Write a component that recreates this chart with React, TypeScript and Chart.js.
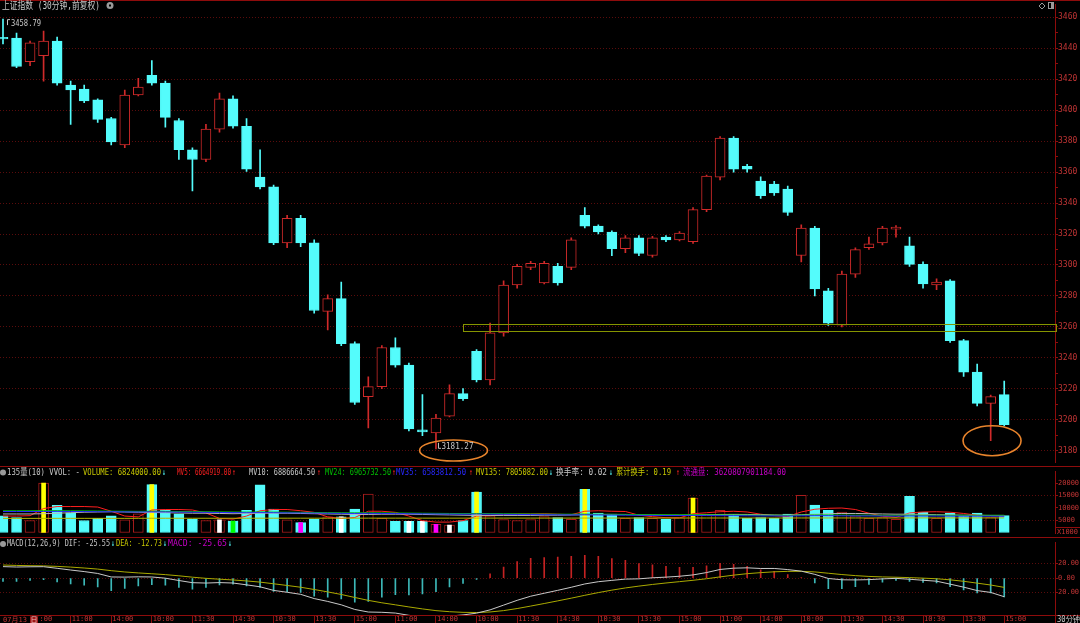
import { useEffect, useRef } from "react";
import { Chart, registerables } from "chart.js";

Chart.register(...registerables);

// ---------------- data ----------------
const barTimes = [
  "14:00", "14:30", "15:00",
  "10:00", "10:30", "11:00", "11:30", "13:30", "14:00", "14:30", "15:00",
  "10:00", "10:30", "11:00", "11:30", "13:30", "14:00", "14:30", "15:00",
  "10:00", "10:30", "11:00", "11:30", "13:30", "14:00", "14:30", "15:00",
  "10:00", "10:30", "11:00", "11:30", "13:30", "14:00", "14:30", "15:00",
  "10:00", "10:30", "11:00", "11:30", "13:30", "14:00", "14:30", "15:00",
  "10:00", "10:30", "11:00", "11:30", "13:30", "14:00", "14:30", "15:00",
  "10:00", "10:30", "11:00", "11:30", "13:30", "14:00", "14:30", "15:00",
  "10:00", "10:30", "11:00", "11:30", "13:30", "14:00", "14:30", "15:00",
  "10:00", "10:30", "11:00", "11:30", "13:30", "14:00", "14:30", "15:00",
];

const openPx = [
  3447.0, 3446.5, 3431.3, 3435.1, 3444.6, 3416.2, 3413.6, 3406.7, 3394.6, 3377.6,
  3409.8, 3422.5, 3417.4, 3393.3, 3374.4, 3368.1, 3387.7, 3407.3, 3389.6, 3356.7,
  3350.4, 3314.3, 3330.1, 3314.3, 3270.0, 3278.3, 3249.2, 3215.0, 3221.4, 3246.7,
  3235.3, 3193.5, 3191.6, 3202.4, 3216.9, 3244.2, 3225.8, 3256.2, 3287.1, 3298.5,
  3288.4, 3299.1, 3298.5, 3332.0, 3325.1, 3321.3, 3310.5, 3317.5, 3306.1, 3318.1,
  3316.2, 3315.0, 3335.8, 3356.7, 3382.0, 3363.7, 3354.2, 3352.3, 3349.1, 3306.1,
  3323.8, 3283.3, 3261.2, 3294.1, 3311.2, 3314.3, 3323.2, 3312.4, 3300.4, 3287.1,
  3289.7, 3251.1, 3230.8, 3210.6, 3216.3,
];
const highPx = [
  3458.79, 3449.7, 3444.6, 3451.0, 3447.2, 3418.7, 3416.2, 3407.3, 3395.3, 3413.0,
  3420.6, 3432.0, 3418.7, 3394.6, 3375.7, 3390.8, 3411.1, 3409.2, 3394.6, 3374.4,
  3351.6, 3332.0, 3332.0, 3316.2, 3280.8, 3289.0, 3250.4, 3227.7, 3247.9, 3252.9,
  3236.6, 3216.3, 3203.6, 3222.6, 3220.1, 3245.4, 3262.5, 3289.7, 3300.4, 3302.3,
  3302.3, 3301.0, 3317.5, 3337.1, 3326.0, 3322.0, 3319.0, 3319.0, 3318.5, 3319.0,
  3321.5, 3337.0, 3358.0, 3383.0, 3383.0, 3365.0, 3357.0, 3354.0, 3351.0, 3326.0,
  3325.0, 3285.0, 3296.0, 3311.0, 3318.0, 3325.0, 3325.5, 3318.0, 3302.0, 3291.0,
  3290.5, 3252.0, 3236.0, 3216.0, 3225.0,
];
const lowPx = [
  3442.7, 3427.5, 3428.8, 3418.7, 3416.2, 3390.8, 3404.8, 3392.1, 3377.6, 3375.7,
  3409.2, 3416.2, 3389.0, 3368.1, 3347.8, 3366.8, 3385.8, 3388.3, 3360.5, 3349.1,
  3313.1, 3311.2, 3311.8, 3268.8, 3258.0, 3247.9, 3210.0, 3194.7, 3220.1, 3234.0,
  3192.9, 3189.7, 3181.27, 3201.8, 3212.5, 3224.5, 3222.6, 3254.0, 3285.0, 3297.0,
  3287.8, 3287.0, 3297.0, 3324.0, 3320.0, 3306.0, 3308.0, 3306.0, 3305.0, 3315.0,
  3315.5, 3314.0, 3334.5, 3355.0, 3360.0, 3360.0, 3343.0, 3345.0, 3332.0, 3302.0,
  3280.0, 3261.0, 3260.0, 3292.0, 3310.0, 3313.0, 3318.0, 3299.0, 3285.0, 3284.0,
  3250.0, 3228.0, 3209.0, 3186.5, 3196.0,
];
const closePx = [
  3446.0, 3428.2, 3443.4, 3444.6, 3417.4, 3413.0, 3406.0, 3394.0, 3379.5, 3409.8,
  3414.9, 3417.4, 3395.3, 3374.4, 3368.1, 3387.7, 3407.3, 3389.6, 3361.8, 3350.4,
  3314.3, 3330.1, 3314.3, 3270.6, 3278.3, 3249.2, 3211.2, 3221.4, 3246.7, 3235.3,
  3194.1, 3192.2, 3201.1, 3216.9, 3213.7, 3225.8, 3256.2, 3287.1, 3299.1, 3301.0,
  3301.0, 3288.4, 3316.2, 3325.1, 3321.3, 3310.5, 3317.5, 3307.4, 3317.5, 3316.2,
  3320.6, 3335.8, 3357.4, 3382.0, 3361.8, 3361.8, 3344.7, 3346.6, 3333.9, 3323.8,
  3284.6, 3262.5, 3294.1, 3309.9, 3313.7, 3323.8, 3324.4, 3300.4, 3287.8, 3289.0,
  3251.1, 3230.8, 3210.6, 3215.0, 3196.8,
];

// volume, in thousands (axis "X1000")
const volume = [
  6712, 6069, 4855, 19992, 10996, 7925, 4855, 5712, 6712, 5105,
  7568, 19385, 9175, 7568, 5462, 4855, 5105, 4641, 8925, 19278,
  9425, 5105, 3998, 5462, 6355, 6355, 9425, 15565, 5712, 4498,
  4498, 4498, 3249, 3035, 4855, 16315, 6712, 5248, 4855, 5248,
  6426, 6069, 5355, 17493, 7854, 7497, 5712, 6069, 5712, 5355,
  6069, 13923, 7497, 8925, 7497, 5712, 6069, 5712, 7497, 14994,
  11067, 8925, 8211, 6783, 5712, 6069, 5355, 14637, 8211, 5712,
  7854, 6783, 7854, 6069, 6824,
];
// inner marker stripe on some volume bars: y=yellow w=white g=green m=magenta
const volMark = [
  "", "", "", "y", "", "", "", "", "", "",
  "", "y", "", "", "", "", "w", "g", "", "",
  "", "", "m", "", "", "w", "", "", "", "",
  "w", "w", "m", "w", "", "y", "", "", "", "",
  "", "", "", "y", "", "", "", "", "", "",
  "", "y", "", "", "", "", "", "", "", "",
  "", "", "", "", "", "", "", "", "", "",
  "", "", "", "", "",
];
const mv5 = [
  6650, 6650, 6800, 9700, 10500, 10500, 10500, 10300, 8600, 6650,
  6300, 9100, 9300, 9300, 9100, 7900, 5700, 5400, 6650, 8800,
  9300, 9300, 8800, 8150, 6300, 5700, 6050, 8600, 8600, 8150,
  6650, 4800, 4200, 4200, 4800, 6650, 6800, 7250, 7500, 7500,
  7600, 7400, 7200, 8600, 8800, 8600, 8500, 7000, 6400, 6000,
  5900, 7600, 8000, 8400, 8600, 8300, 7400, 6800, 6500, 8300,
  9400, 9800, 9900, 9300, 7800, 6600, 6100, 7900, 8300, 8400,
  8200, 7700, 7000, 6800, 6665,
];
const mv10 = [
  7500, 7500, 7500, 7600, 7800, 8000, 8200, 8300, 8400, 8300,
  8200, 8100, 8000, 7900, 7800, 7800, 7700, 7600, 7700, 7800,
  7800, 7800, 7700, 7600, 7500, 7400, 7300, 7300, 7400, 7400,
  7400, 7300, 7200, 7100, 7000, 6900, 6900, 6900, 6900, 6900,
  7000, 7000, 7100, 7200, 7300, 7300, 7300, 7200, 7100, 7000,
  7000, 7100, 7200, 7300, 7300, 7300, 7200, 7100, 7000, 7200,
  7400, 7600, 7700, 7700, 7600, 7500, 7400, 7400, 7300, 7200,
  7100, 7000, 6950, 6900, 6887,
];
const mv24 = [
  8800, 8800, 8800, 8850, 8850, 8800, 8750, 8700, 8650, 8600,
  8550, 8600, 8550, 8500, 8450, 8400, 8350, 8300, 8250, 8300,
  8250, 8200, 8150, 8100, 8050, 8000, 7950, 8000, 7950, 7900,
  7850, 7800, 7750, 7700, 7650, 7700, 7650, 7600, 7550, 7500,
  7450, 7400, 7400, 7450, 7400, 7350, 7300, 7250, 7200, 7150,
  7150, 7200, 7150, 7100, 7100, 7050, 7000, 7000, 6950, 7050,
  7100, 7100, 7050, 7000, 7000, 6950, 6950, 7050, 7000, 7000,
  6980, 6970, 6970, 6960, 6966,
];
const mv35 = [
  8500, 8500, 8500, 8500, 8550, 8500, 8450, 8400, 8400, 8350,
  8300, 8350, 8300, 8250, 8200, 8150, 8100, 8050, 8000, 8050,
  8000, 7950, 7900, 7850, 7800, 7750, 7700, 7750, 7700, 7650,
  7600, 7550, 7500, 7450, 7400, 7450, 7400, 7350, 7300, 7250,
  7200, 7150, 7100, 7150, 7100, 7050, 7000, 6950, 6900, 6850,
  6850, 6900, 6850, 6800, 6800, 6750, 6700, 6700, 6650, 6750,
  6800, 6800, 6750, 6700, 6700, 6650, 6600, 6700, 6650, 6650,
  6620, 6600, 6600, 6590, 6584,
];
const mv135 = [
  5700, 5700, 5700, 5720, 5720, 5720, 5720, 5720, 5720, 5720,
  5740, 5760, 5760, 5760, 5760, 5760, 5760, 5760, 5760, 5780,
  5780, 5780, 5780, 5780, 5780, 5780, 5780, 5800, 5800, 5800,
  5800, 5800, 5800, 5800, 5800, 5820, 5820, 5820, 5820, 5820,
  5820, 5820, 5820, 5840, 5840, 5840, 5840, 5840, 5840, 5840,
  5840, 5860, 5860, 5860, 5860, 5860, 5860, 5860, 5860, 5880,
  5880, 5880, 5880, 5880, 5880, 5880, 5880, 5900, 5900, 5900,
  5900, 5900, 5900, 5900, 5900,
];

const macdHist = [
  -4.4, -4.4, -3, -2.2, -5.3, -8, -9.8, -12, -17.3, -14.2,
  -10.7, -8.9, -9.8, -12.9, -15.1, -12.9, -9.3, -8.4, -10.7, -12.9,
  -18.2, -18.7, -19.5, -24.9, -26.2, -28.4, -32.9, -32, -26.2, -22.6,
  -23.1, -21.8, -18.7, -12, -7.1, -1.8, 5.8, 15.1, 22.6, 27.1,
  28.2, 29, 29.9, 31.2, 29.9, 26.9, 24.3, 20, 18.3, 16.1,
  14.8, 14.8, 17, 20.4, 19.1, 16.1, 11.4, 9.2, 4.9, 0.5,
  -6.7, -14.4, -14.4, -11.8, -8.8, -5.4, -3.2, -4.5, -5.8, -6.7,
  -11.8, -16.1, -20.4, -20.4, -25.65,
];
const dea = [
  18, 17.45, 17.08, 16.8, 16.14, 15.14, 13.91, 12.41, 10.25, 8.48,
  7.14, 6.03, 4.8, 3.19, 1.3, -0.31, -1.47, -2.52, -3.86, -5.47,
  -7.75, -10.09, -12.52, -15.63, -18.91, -22.46, -26.57, -30.57, -33.85, -36.67,
  -39.56, -42.28, -44.62, -46.12, -47.01, -47.23, -46.5, -44.62, -41.8, -38.41,
  -34.88, -31.26, -27.52, -23.62, -19.88, -16.52, -13.48, -10.98, -8.69, -6.68,
  -4.83, -2.98, -0.85, 1.7, 4.09, 6.1, 7.53, 8.68, 9.29, 9.35,
  8.51, 6.71, 4.91, 3.44, 2.34, 1.66, 1.26, 0.7, -0.03, -0.87,
  -2.34, -4.35, -6.9, -9.45, -12.73,
];
const dif = [
  15.8, 15.25, 15.58, 15.7, 13.49, 11.14, 9.01, 6.41, 1.6, 1.38,
  1.79, 1.58, -0.1, -3.26, -6.25, -6.76, -6.12, -6.72, -9.21, -11.92,
  -16.85, -19.44, -22.27, -28.08, -32.01, -36.66, -43.02, -46.57, -46.95, -47.97,
  -51.11, -53.18, -53.97, -52.12, -50.56, -48.13, -43.6, -37.07, -30.5, -24.86,
  -20.78, -16.76, -12.57, -8.02, -4.93, -3.07, -1.33, -0.98, 0.46, 1.37,
  2.57, 4.42, 7.65, 11.9, 13.64, 14.15, 13.23, 13.28, 11.74, 9.6,
  5.16, -0.49, -2.29, -2.46, -2.06, -1.04, -0.34, -1.55, -2.93, -4.22,
  -8.24, -12.4, -17.1, -19.65, -25.55,
];

const priceTicks = [
  3170, 3180, 3190, 3200, 3210, 3220, 3230, 3240, 3250, 3260, 3270, 3280, 3290, 3300, 3310,
  3320, 3330, 3340, 3350, 3360, 3370, 3380, 3390, 3400, 3410, 3420, 3430, 3440, 3450, 3460,
];
const volTicks = [5000, 10000, 15000, 20000];
const macdTicks = [20, 0, -20];
const macdTickLabels = ["20.00", "0.00", "20.00"];
const xTickIdx = [2, 5, 8, 11, 14, 17, 20, 23, 26, 29, 32, 35, 38, 41, 44, 47, 50, 53, 56, 59, 62, 65, 68, 71, 74];
const firstDate = "07月13日";

const zone = { fromIdx: 34, low: 3257.0, high: 3261.7 };
const rings = [
  { idx: 33.3, value: 3180.2, rx: 34, ry: 10.5 },
  { idx: 73.1, value: 3186.5, rx: 29, ry: 15 },
];

// ---------------- style ----------------
const W = 1080;
const AXIS_W = 25;
const PLOT_R = W - AXIS_W;
const STEP = 13.53;
const FIRST_X = 3;
const X_MIN = -FIRST_X / STEP;
const X_MAX = (PLOT_R - FIRST_X) / STEP;

const CYAN = "#54fcfc";
const RED = "#d02a2a";
const VRED = "#a81c1c";
const AXIS = "#8e0c0c";
const AXIS_TXT = "#c03434";
const GRID = "#5a0c0c";
const MONO = '"DejaVu Sans Mono", "Liberation Mono", "Noto Sans CJK SC", monospace';
const markColor: any = { y: "#ffff00", w: "#ffffff", g: "#00ff00", m: "#ff00ff" };

const idx = barTimes.map((_, i) => i);
const isUp = (i: number) => closePx[i] >= openPx[i];

function seg(ctx: any, s: string, x: number, y: number, color: string, w?: number) {
  ctx.fillStyle = color;
  if (w) ctx.fillText(s, x, y, w);
  else ctx.fillText(s, x, y);
}

function hLine(ctx: any, x1: number, x2: number, y: number, color: string) {
  ctx.save();
  ctx.strokeStyle = color;
  ctx.lineWidth = 1;
  ctx.beginPath();
  ctx.moveTo(x1, y);
  ctx.lineTo(x2, y);
  ctx.stroke();
  ctx.restore();
}

function xScaleHidden(): any {
  return { type: "linear", min: X_MIN, max: X_MAX, offset: false, display: false, grid: { offset: false } };
}

function rightAxis(
  min: number,
  max: number,
  ticks: number[],
  label: (v: number) => string,
  gridOn: (v: number) => boolean,
  fontSize: number
): any {
  return {
    position: "right",
    min,
    max,
    afterFit: (s: any) => {
      s.width = AXIS_W;
    },
    afterBuildTicks: (s: any) => {
      s.ticks = ticks.map((v) => ({ value: v }));
    },
    ticks: {
      autoSkip: false,
      padding: 0,
      color: AXIS_TXT,
      font: { family: MONO, size: fontSize },
      callback: (v: any) => label(Number(v)),
    },
    grid: {
      color: (c: any) => (c.tick && gridOn(c.tick.value) ? GRID : "rgba(0,0,0,0)"),
      lineWidth: 1,
      drawTicks: true,
      tickLength: 3,
      tickColor: AXIS,
      tickBorderDash: [],
    },
    border: { display: true, color: AXIS, width: 1, dash: [1, 2] },
  };
}

const baseOpts: any = {
  responsive: false,
  animation: false,
  devicePixelRatio: 1,
  layout: { padding: 0 },
  plugins: { legend: { display: false }, tooltip: { enabled: false } },
  events: [],
};

export default function App() {
  const mainRef = useRef<HTMLCanvasElement>(null);
  const volRef = useRef<HTMLCanvasElement>(null);
  const macdRef = useRef<HTMLCanvasElement>(null);

  useEffect(() => {
    const charts: any[] = [];

    // ---------- price panel ----------
    const priceOverlay = {
      id: "priceOverlay",
      afterDraw(chart: any) {
        const { ctx, scales } = chart;
        const x = scales.x;
        const y = scales.y;
        ctx.save();
        hLine(ctx, 0, W, 0.5, AXIS);
        hLine(ctx, 0, W, 466.5, AXIS);
        // support zone
        const zx = Math.round(x.getPixelForValue(zone.fromIdx));
        const zt = y.getPixelForValue(zone.high);
        const zb = y.getPixelForValue(zone.low);
        ctx.strokeStyle = "#859400";
        ctx.lineWidth = 1;
        ctx.strokeRect(zx + 0.5, Math.round(zt) + 0.5, PLOT_R + 1 - zx, Math.round(zb - zt));
        // rings
        ctx.strokeStyle = "#e8842c";
        ctx.lineWidth = 1.6;
        rings.forEach((r) => {
          ctx.beginPath();
          ctx.ellipse(x.getPixelForValue(r.idx), y.getPixelForValue(r.value), r.rx, r.ry, 0, 0, Math.PI * 2);
          ctx.stroke();
        });
        // high / low markers
        ctx.font = `9px ${MONO}`;
        ctx.textBaseline = "middle";
        let hi = 0;
        let lo = 0;
        highPx.forEach((v, i) => {
          if (v > highPx[hi]) hi = i;
        });
        lowPx.forEach((v, i) => {
          if (v < lowPx[lo]) lo = i;
        });
        const hx = x.getPixelForValue(hi);
        const hy = y.getPixelForValue(highPx[hi]);
        ctx.strokeStyle = "#c8c8c8";
        ctx.lineWidth = 1;
        ctx.beginPath();
        ctx.moveTo(hx + 4.5, hy + 6);
        ctx.lineTo(hx + 4.5, hy + 0.5);
        ctx.lineTo(hx + 7, hy + 0.5);
        ctx.stroke();
        seg(ctx, highPx[hi].toFixed(2), hx + 8, hy + 4.5, "#c8c8c8", 30);
        const lx = x.getPixelForValue(lo);
        const ly = y.getPixelForValue(lowPx[lo]);
        ctx.beginPath();
        ctx.moveTo(lx + 2.5, ly - 6);
        ctx.lineTo(lx + 2.5, ly - 0.5);
        ctx.lineTo(lx + 5, ly - 0.5);
        ctx.stroke();
        seg(ctx, lowPx[lo].toFixed(2), lx + 5.5, ly - 2, "#c8c8c8", 32);
        // title
        ctx.font = `10px ${MONO}`;
        seg(ctx, "上证指数 (30分钟,前复权)", 2, 6, "#c8c8c8", 98);
        ctx.fillStyle = "#9a9a9a";
        ctx.beginPath();
        ctx.arc(110, 5.5, 3.5, 0, Math.PI * 2);
        ctx.fill();
        ctx.fillStyle = "#000";
        ctx.fillRect(109, 4.5, 2, 2);
        // top-right icons
        ctx.strokeStyle = "#9a9a9a";
        ctx.beginPath();
        ctx.moveTo(1042, 3);
        ctx.lineTo(1045, 6);
        ctx.lineTo(1042, 9);
        ctx.lineTo(1039, 6);
        ctx.closePath();
        ctx.stroke();
        ctx.strokeRect(1048.5, 2.5, 5, 6);
        ctx.fillStyle = "#9a9a9a";
        ctx.fillRect(1051, 3, 2.5, 5.5);
        ctx.restore();
      },
    };

    charts.push(
      new Chart(mainRef.current as any, {
        type: "bar",
        data: {
          datasets: [
            {
              type: "bar",
              data: idx.map((i) => ({ x: i, y: [lowPx[i], highPx[i]] })),
              backgroundColor: idx.map((i) => (isUp(i) ? RED : CYAN)),
              borderWidth: 0,
              barThickness: 1,
              grouped: false,
              order: 2,
            } as any,
            {
              type: "bar",
              data: idx.map((i) => ({ x: i, y: [openPx[i], closePx[i]] })),
              backgroundColor: idx.map((i) => (isUp(i) ? "#000000" : CYAN)),
              borderColor: idx.map((i) => (isUp(i) ? RED : CYAN)),
              borderWidth: 1,
              borderSkipped: false,
              barThickness: 10,
              grouped: false,
              order: 1,
            } as any,
          ],
        },
        options: {
          ...baseOpts,
          scales: {
            x: xScaleHidden(),
            y: rightAxis(
              3460 - (467 - 12.7) / 1.5809,
              3460 + 12.7 / 1.5809,
              priceTicks,
              (v) => (v % 20 === 0 ? String(v) : ""),
              (v) => v % 20 === 0,
              8
            ),
          },
        },
        plugins: [priceOverlay],
      } as any)
    );

    // ---------- volume panel ----------
    const volOverlay = {
      id: "volOverlay",
      afterDraw(chart: any) {
        const { ctx } = chart;
        ctx.save();
        ctx.font = `9px ${MONO}`;
        ctx.textBaseline = "middle";
        const yT = 5.5;
        ctx.fillStyle = "#9a9a9a";
        ctx.beginPath();
        ctx.arc(3, yT, 3, 0, Math.PI * 2);
        ctx.fill();
        seg(ctx, "135量(10) VVOL: -", 7, yT, "#c8c8c8", 73);
        seg(ctx, "VOLUME: " + (volume[volume.length - 1] * 1000).toFixed(2), 83, yT, "#c8c800", 78);
        seg(ctx, "↓", 162, yT, CYAN, 4);
        seg(ctx, "MV5: 6664919.00", 177, yT, "#ff2020", 54);
        seg(ctx, "↑", 232, yT, "#ff2020", 4);
        seg(ctx, "MV10: 6886664.50", 249, yT, "#c8c8c8", 66);
        seg(ctx, "↑", 317, yT, "#ff2020", 4);
        seg(ctx, "MV24: 6965732.50", 325, yT, "#00c000", 66);
        seg(ctx, "↑", 392, yT, "#ff2020", 4);
        seg(ctx, "MV35: 6583812.50", 396, yT, "#2828ff", 70);
        seg(ctx, "↑", 469, yT, "#ff2020", 4);
        seg(ctx, "MV135: 7805082.00", 476, yT, "#c8c800", 72);
        seg(ctx, "↓", 549, yT, CYAN, 4);
        seg(ctx, "换手率: 0.02", 556, yT, "#c8c8c8", 51);
        seg(ctx, "↓", 609, yT, CYAN, 4);
        seg(ctx, "累计换手: 0.19", 616, yT, "#c8c800", 55);
        seg(ctx, "↑", 676, yT, "#ff2020", 4);
        seg(ctx, "流通盘: 3620807901184.00", 683, yT, "#c800c8", 103);
        // X1000 box
        hLine(ctx, PLOT_R, W, 60.5, AXIS);
        ctx.font = `7px ${MONO}`;
        seg(ctx, "X1000", 1057, 65.5, AXIS_TXT, 21);
        hLine(ctx, 0, W, 70.5, AXIS);
        ctx.restore();
      },
    };

    charts.push(
      new Chart(volRef.current as any, {
        type: "bar",
        data: {
          datasets: [
            {
              type: "line",
              data: idx.map((i) => ({ x: i, y: mv135[i] })),
              borderColor: "#b4b400",
              borderWidth: 1,
              pointRadius: 0,
              order: 0,
            } as any,
            {
              type: "line",
              data: idx.map((i) => ({ x: i, y: mv35[i] })),
              borderColor: "#2828ff",
              borderWidth: 1,
              pointRadius: 0,
              order: 0,
            } as any,
            {
              type: "line",
              data: idx.map((i) => ({ x: i, y: mv24[i] })),
              borderColor: "#00c000",
              borderWidth: 1,
              pointRadius: 0,
              order: 0,
            } as any,
            {
              type: "line",
              data: idx.map((i) => ({ x: i, y: mv10[i] })),
              borderColor: "#b8b8b8",
              borderWidth: 1,
              pointRadius: 0,
              order: 0,
            } as any,
            {
              type: "line",
              data: idx.map((i) => ({ x: i, y: mv5[i] })),
              borderColor: "#ff1e1e",
              borderWidth: 1,
              pointRadius: 0,
              order: 0,
            } as any,
            {
              type: "bar",
              data: idx.filter((i) => volMark[i]).map((i) => ({ x: i, y: volume[i] })),
              backgroundColor: (c: any) => (c.raw ? markColor[volMark[c.raw.x]] : "#fff"),
              borderWidth: 0,
              barThickness: 4,
              grouped: false,
              order: 1,
            } as any,
            {
              type: "bar",
              data: idx.map((i) => ({ x: i, y: volume[i] })),
              backgroundColor: idx.map((i) => (isUp(i) ? "#000000" : CYAN)),
              borderColor: idx.map((i) => (isUp(i) ? VRED : CYAN)),
              borderWidth: 1,
              borderSkipped: false,
              barThickness: 10,
              grouped: false,
              order: 2,
            } as any,
          ],
        },
        options: {
          ...baseOpts,
          scales: {
            x: xScaleHidden(),
            y: rightAxis(-1.5 * 357, 69.5 * 357, volTicks, (v) => String(v), (v) => v === 15000 || v === 5000, 7),
          },
        },
        plugins: [volOverlay],
      } as any)
    );

    // ---------- MACD panel ----------
    const macdOverlay = {
      id: "macdOverlay",
      afterDraw(chart: any) {
        const { ctx, chartArea } = chart;
        ctx.save();
        ctx.font = `9px ${MONO}`;
        ctx.textBaseline = "middle";
        const yT = 6;
        ctx.fillStyle = "#9a9a9a";
        ctx.beginPath();
        ctx.arc(3, yT, 3, 0, Math.PI * 2);
        ctx.fill();
        const n = dif.length - 1;
        seg(ctx, "MACD(12,26,9) DIF: " + dif[n].toFixed(2), 7, yT, "#c8c8c8", 103);
        seg(ctx, "↓", 111, yT, CYAN, 4);
        seg(ctx, "DEA: " + dea[n].toFixed(2), 116, yT, "#c8c800", 46);
        seg(ctx, "↓", 163, yT, CYAN, 4);
        seg(ctx, "MACD: " + macdHist[n].toFixed(2), 168, yT, "#c800c8", 59);
        seg(ctx, "↓", 228, yT, CYAN, 4);
        const b = Math.round(chartArea.bottom) + 0.5;
        hLine(ctx, PLOT_R, W, b, AXIS);
        ctx.strokeStyle = AXIS;
        ctx.beginPath();
        ctx.moveTo(PLOT_R + 0.5, b);
        ctx.lineTo(PLOT_R + 0.5, 85);
        ctx.stroke();
        ctx.font = `8px ${MONO}`;
        seg(ctx, "30分钟", 1057, b + 4.5, "#c8c8c8", 23);
        // first date label (drawn over the first tick label)
        ctx.fillStyle = "#000";
        ctx.fillRect(1, b + 1, 39, 8);
        ctx.font = `7px ${MONO}`;
        seg(ctx, firstDate.slice(0, 5), 3, b + 4.5, AXIS_TXT, 26);
        ctx.fillStyle = "#a01818";
        ctx.fillRect(30, b + 1, 8, 7.5);
        seg(ctx, firstDate.slice(5), 30.5, b + 4.5, "#f0c0c0", 7);
        ctx.restore();
      },
    };

    charts.push(
      new Chart(macdRef.current as any, {
        type: "bar",
        data: {
          datasets: [
            {
              type: "line",
              data: idx.map((i) => ({ x: i, y: dif[i] })),
              borderColor: "#c8c8c8",
              borderWidth: 1,
              pointRadius: 0,
              order: 0,
            } as any,
            {
              type: "line",
              data: idx.map((i) => ({ x: i, y: dea[i] })),
              borderColor: "#aaaa00",
              borderWidth: 1,
              pointRadius: 0,
              order: 1,
            } as any,
            {
              type: "bar",
              data: idx.map((i) => ({ x: i, y: macdHist[i] })),
              backgroundColor: idx.map((i) => (macdHist[i] >= 0 ? "#c42222" : "#3cb8b8")),
              borderWidth: 0,
              barThickness: 1,
              grouped: false,
              order: 2,
            } as any,
          ],
        },
        options: {
          ...baseOpts,
          scales: {
            x: {
              type: "linear",
              min: X_MIN,
              max: X_MAX,
              offset: false,
              position: "bottom",
              afterFit: (s: any) => {
                s.height = 8;
              },
              afterBuildTicks: (s: any) => {
                s.ticks = xTickIdx.map((v) => ({ value: v }));
              },
              ticks: {
                autoSkip: false,
                maxRotation: 0,
                minRotation: 0,
                align: "start",
                padding: -8,
                labelOffset: 1,
                color: AXIS_TXT,
                font: { family: MONO, size: 7 },
                callback: (v: any) => barTimes[Number(v)] || "",
              },
              grid: { offset: false, drawOnChartArea: false, drawTicks: true, tickLength: 8, tickColor: AXIS, color: AXIS },
              border: { display: true, color: AXIS },
            },
            y: rightAxis(
              -(77 - 38) / 0.77,
              38 / 0.77,
              macdTicks,
              (v) => macdTickLabels[macdTicks.indexOf(v)] || "",
              () => true,
              7
            ),
          },
        },
        plugins: [macdOverlay],
      } as any)
    );

    return () => charts.forEach((c) => c.destroy());
  }, []);

  return (
    <div style={{ position: "absolute", left: 0, top: 0, width: W, height: 623, background: "#000", overflow: "hidden" }}>
      <canvas ref={mainRef} width={W} height={467} style={{ position: "absolute", left: 0, top: 0, width: W, height: 467 }} />
      <canvas ref={volRef} width={W} height={71} style={{ position: "absolute", left: 0, top: 467, width: W, height: 71 }} />
      <canvas ref={macdRef} width={W} height={85} style={{ position: "absolute", left: 0, top: 538, width: W, height: 85 }} />
    </div>
  );
}
